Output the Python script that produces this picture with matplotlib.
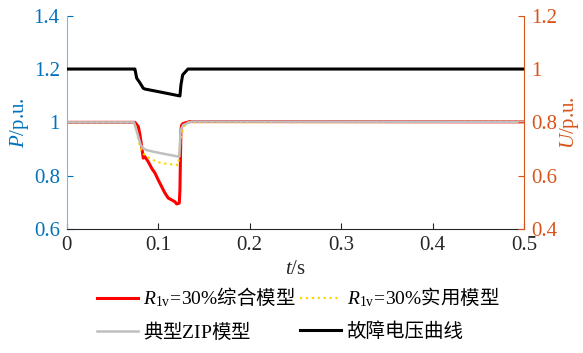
import matplotlib
matplotlib.use('Agg')
import matplotlib.pyplot as plt
from matplotlib.lines import Line2D

plt.rcParams['font.family'] = ['Liberation Serif', 'Noto Sans CJK SC']
plt.rcParams['mathtext.fontset'] = 'custom'
plt.rcParams['mathtext.rm'] = 'Liberation Serif'
plt.rcParams['mathtext.it'] = 'Liberation Serif:italic'

blue = '#0072BD'
orange = '#D95319'

# active power, R1v = 30% composite model
t_comp = [0, 0.0736, 0.0746, 0.0783, 0.0801, 0.0820, 0.0837, 0.0855, 0.0892, 0.0929,
          0.0965, 0.1001, 0.1038, 0.1074, 0.1110, 0.1148, 0.1184, 0.1202, 0.1231,
          0.1238, 0.1249, 0.1257, 0.1274, 0.1348, 0.5]
p_comp = [1.0, 1.0, 1.0, 0.984, 0.953, 0.909, 0.866, 0.871, 0.852, 0.828,
          0.810, 0.784, 0.759, 0.735, 0.716, 0.709, 0.702, 0.694, 0.697,
          0.746, 0.971, 0.990, 0.996, 1.003, 1.002]

# active power, R1v = 30% practical model
t_prac = [0, 0.0736, 0.0765, 0.0783, 0.0820, 0.0855, 0.0910, 0.0984, 0.1056, 0.1129,
          0.1220, 0.1238, 0.1274, 0.1311, 0.5]
p_prac = [1.0, 1.0, 0.971, 0.934, 0.890, 0.877, 0.865, 0.852, 0.846, 0.843,
          0.840, 0.922, 0.979, 1.0, 1.002]

# active power, typical ZIP model
t_zip = [0, 0.0736, 0.0783, 0.0809, 0.0837, 0.0874, 0.0946, 0.1093, 0.1231, 0.1246,
         0.1274, 0.1366, 0.5]
p_zip = [1.0, 1.0, 0.946, 0.915, 0.903, 0.896, 0.890, 0.880, 0.871, 0.971,
         0.990, 1.003, 1.002]

# fault voltage
t_u = [0, 0.0736, 0.0746, 0.0765, 0.0801, 0.0837, 0.0855, 0.1020, 0.1238, 0.1249,
       0.1268, 0.1326, 0.5]
u_fault = [1.0, 1.0, 1.0, 0.966, 0.948, 0.928, 0.925, 0.914, 0.899, 0.940,
           0.978, 1.0, 1.0]

xticks = [0, 0.1, 0.2, 0.3, 0.4, 0.5]
xticklabels = ['0', '0.1', '0.2', '0.3', '0.4', '0.5']
pticks = [0.6, 0.8, 1.0, 1.2, 1.4]
pticklabels = ['0.6', '0.8', '1', '1.2', '1.4']
uticks = [0.4, 0.6, 0.8, 1.0, 1.2]
uticklabels = ['0.4', '0.6', '0.8', '1', '1.2']

fig = plt.figure(figsize=(5.83, 3.53), dpi=100)
ax1 = fig.add_axes([0.1144, 0.3513, 0.7844, 0.6042])
ax2 = ax1.twinx()

l1, = ax1.plot(t_comp, p_comp, color='#FF0000', lw=2.2)
l2, = ax1.plot(t_prac, p_prac, color='#FFD700', lw=1.6, ls=':')
l3, = ax1.plot(t_zip, p_zip, color='#BFBFBF', lw=1.8)
l4, = ax2.plot(t_u, u_fault, color='black', lw=2.2)

ax1.set_xlim(0, 0.5)
ax1.set_ylim(0.6, 1.4)
ax2.set_ylim(0.4, 1.2)
ax1.set_xticks(xticks)
ax1.set_xticklabels(xticklabels)
ax1.set_yticks(pticks)
ax1.set_yticklabels(pticklabels)
ax2.set_yticks(uticks)
ax2.set_yticklabels(uticklabels)

for ax in (ax1, ax2):
    ax.spines['top'].set_visible(False)
ax2.spines['left'].set_visible(False)
ax2.spines['bottom'].set_visible(False)
ax1.spines['right'].set_visible(False)
ax1.spines['left'].set_color('#7FB8DE')
ax2.spines['right'].set_color(orange)
ax1.spines['bottom'].set_color('#262626')

ax1.tick_params(axis='x', direction='in', length=4, labelsize=15, colors='#262626', pad=5)
ax1.tick_params(axis='y', direction='in', length=4, labelsize=15, colors=blue, pad=5)
ax2.tick_params(axis='y', direction='in', length=4, labelsize=15, colors=orange, pad=5)

ax1.set_xlabel('$t$/s', fontsize=15, color='#262626', labelpad=4)
ax1.set_ylabel('$P$/p.u.', fontsize=15, color=blue, labelpad=2)
ax2.set_ylabel('$U$/p.u.', fontsize=15, color=orange, labelpad=1)

# legend fills column by column, so order the entries to get two rows
labels = [r'$R_{\mathrm{1v}}\!=\!\mathrm{30\%}$综合模型',
          r'典型$\mathrm{ZIP}$模型',
          r'$R_{\mathrm{1v}}\!=\!\mathrm{30\%}$实用模型',
          '故障电压曲线']
handles = [Line2D([], [], color='#FF0000', lw=2.2),
           Line2D([], [], color='#BFBFBF', lw=1.8),
           Line2D([], [], color='#FFD700', lw=1.6, ls=':'),
           Line2D([], [], color='black', lw=2.2)]
fig.legend(handles, labels, ncol=2, loc='upper left', bbox_to_anchor=(0.1659, 0.19),
           bbox_transform=fig.transFigure, frameon=False, borderpad=0, borderaxespad=0,
           handlelength=2.1, handletextpad=0.3, columnspacing=0.2, labelspacing=0.6,
           prop={'family': ['Noto Sans CJK SC'], 'size': 14})

plt.savefig('out.png', dpi=100)
